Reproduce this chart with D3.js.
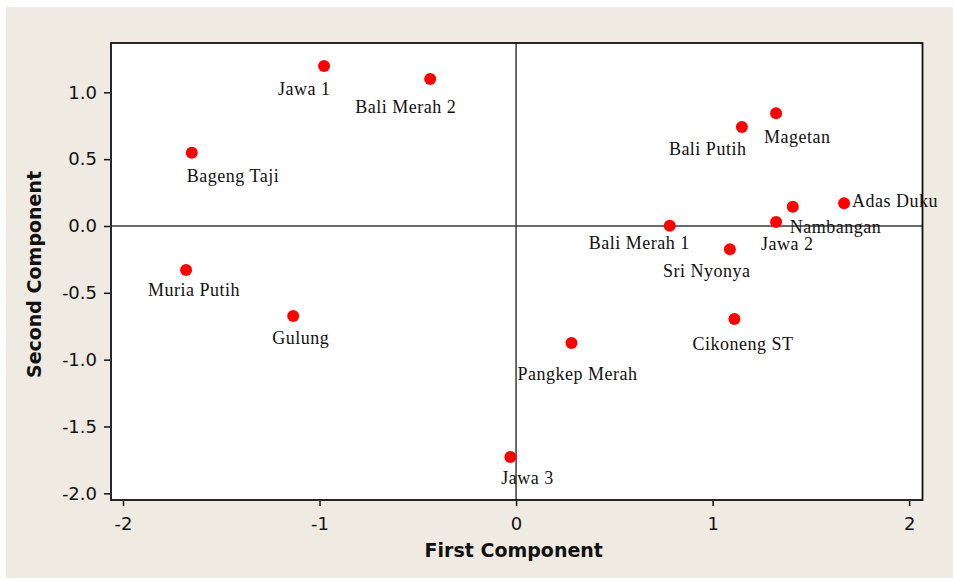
<!DOCTYPE html>
<html>
<head>
<meta charset="utf-8">
<script src="https://cdnjs.cloudflare.com/ajax/libs/d3/7.8.5/d3.min.js"></script>
<style>
  body { margin: 0; background: #ffffff; }
  svg { display: block; }
  .tick text { font-family: "DejaVu Sans", sans-serif; font-size: 18px; fill: #111; }
  .tick line { stroke: #111; stroke-width: 1.5; }
  .pt-label { font-family: "Liberation Serif", "Times New Roman", serif; font-size: 18px; letter-spacing: 0.5px; fill: #111; }
  .axis-title { font-family: "DejaVu Sans", sans-serif; font-size: 19px; font-weight: bold; fill: #111; }
</style>
</head>
<body>
<div id="chart"></div>
<script>
// data
var names = ["Jawa 1", "Bali Merah 2", "Bageng Taji", "Muria Putih", "Gulung", "Jawa 3",
    "Pangkep Merah", "Cikoneng ST", "Bali Merah 1", "Sri Nyonya", "Jawa 2", "Nambangan",
    "Adas Duku", "Bali Putih", "Magetan"];
var firstComp = [-0.977, -0.437, -1.650, -1.679, -1.134, -0.029,
    0.282, 1.111, 0.782, 1.088, 1.323, 1.408,
    1.669, 1.149, 1.323];
var secondComp = [1.197, 1.100, 0.548, -0.329, -0.673, -1.728,
    -0.875, -0.696, 0.002, -0.174, 0.030, 0.144,
    0.170, 0.741, 0.843];
var xTicks = [-2, -1, 0, 1, 2];
var yTicks = [-2.0, -1.5, -1.0, -0.5, 0.0, 0.5, 1.0];

// label placement relative to each point (layout only)
var labelOffsets = [[-46, 29], [-75, 34], [-5, 29], [-38, 26], [-21, 28], [-9, 27],
    [-54, 37], [-42, 31], [-81, 23], [-67, 28], [-15, 28], [-3, 26],
    [8, 4], [-73, 28], [-12, 30]];

var svgWidth = 953;
var svgHeight = 579;

var plot = { left: 111, right: 922.5, top: 43, bottom: 500 };

var svg = d3.select("#chart")
    .append("svg")
    .attr("width", svgWidth)
    .attr("height", svgHeight);

// beige panel
svg.append("rect")
    .attr("x", 6)
    .attr("y", 7)
    .attr("width", svgWidth - 6)
    .attr("height", 571)
    .attr("fill", "#efebe2");

var xScale = d3.scaleLinear()
    .domain([-2.061, 2.068])
    .range([plot.left, plot.right]);

var yScale = d3.scaleLinear()
    .domain([-2.05, 1.369])
    .range([plot.bottom, plot.top]);

// plot area
svg.append("rect")
    .attr("x", plot.left)
    .attr("y", plot.top)
    .attr("width", plot.right - plot.left)
    .attr("height", plot.bottom - plot.top)
    .attr("fill", "#ffffff");

// reference lines at zero
svg.append("line")
    .attr("x1", xScale(0)).attr("x2", xScale(0))
    .attr("y1", plot.top).attr("y2", plot.bottom)
    .attr("stroke", "#3a3a3a")
    .attr("stroke-width", 1.5);

svg.append("line")
    .attr("x1", plot.left).attr("x2", plot.right)
    .attr("y1", yScale(0)).attr("y2", yScale(0))
    .attr("stroke", "#3a3a3a")
    .attr("stroke-width", 1.5);

// axes
var bottomAxis = d3.axisBottom(xScale)
    .tickValues(xTicks)
    .tickFormat(d => d < 0 ? "-" + Math.abs(d) : String(d))
    .tickSize(6)
    .tickPadding(11);

var leftAxis = d3.axisLeft(yScale)
    .tickValues(yTicks)
    .tickFormat(d => (d < 0 ? "-" : "") + Math.abs(d).toFixed(1))
    .tickSize(7)
    .tickPadding(7);

var xAxis = svg.append("g")
    .attr("transform", `translate(0, ${plot.bottom})`)
    .call(bottomAxis);
xAxis.select(".domain").remove();
xAxis.selectAll(".tick line").attr("y1", 1);

var yAxis = svg.append("g")
    .attr("transform", `translate(${plot.left}, 0)`)
    .call(leftAxis);
yAxis.select(".domain").remove();
yAxis.selectAll(".tick line").attr("x1", -1);

// points
var pts = names.map((n, i) => ({ name: n, x: firstComp[i], y: secondComp[i], off: labelOffsets[i] }));

svg.selectAll("circle")
    .data(pts)
    .enter()
    .append("circle")
    .attr("cx", d => xScale(d.x))
    .attr("cy", d => yScale(d.y))
    .attr("r", 6)
    .attr("fill", "#ff0000");

// border over the panel edges
svg.append("rect")
    .attr("x", plot.left)
    .attr("y", plot.top)
    .attr("width", plot.right - plot.left)
    .attr("height", plot.bottom - plot.top)
    .attr("fill", "none")
    .attr("stroke", "#111")
    .attr("stroke-width", 1.8);

svg.selectAll(".pt-label")
    .data(pts)
    .enter()
    .append("text")
    .attr("class", "pt-label")
    .attr("x", d => xScale(d.x) + d.off[0])
    .attr("y", d => yScale(d.y) + d.off[1])
    .text(d => d.name);

// axis titles
svg.append("text")
    .attr("class", "axis-title")
    .attr("x", (plot.left + plot.right) / 2 - 3)
    .attr("y", 557)
    .attr("text-anchor", "middle")
    .text("First Component");

svg.append("text")
    .attr("class", "axis-title")
    .attr("transform", `translate(41, ${(plot.top + plot.bottom) / 2 + 3}) rotate(-90)`)
    .attr("text-anchor", "middle")
    .text("Second Component");
</script>
</body>
</html>
